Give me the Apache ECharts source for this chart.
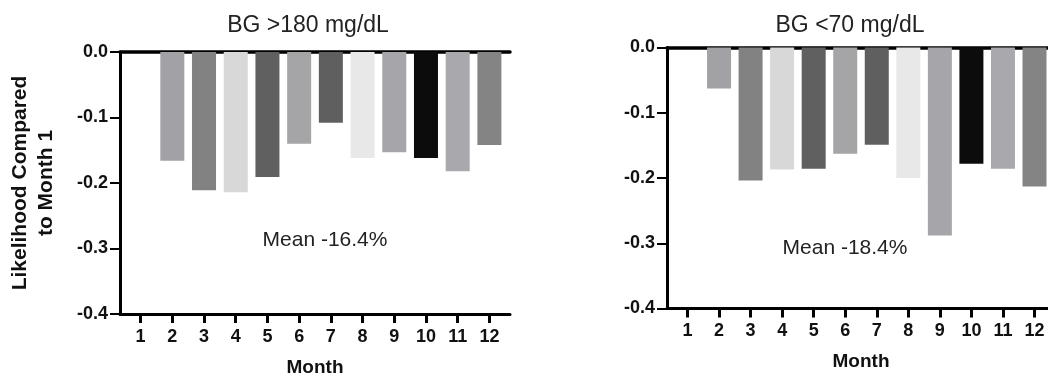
<!DOCTYPE html>
<html>
<head>
<meta charset="utf-8">
<script src="https://cdn.jsdelivr.net/npm/echarts@6/dist/echarts.min.js"></script>
<style>
  html, body { margin: 0; padding: 0; background: #fff; }
  #chart { width: 1048px; height: 378px; }
</style>
</head>
<body>
<div id="chart"></div>
<script>
// 月份与两组数据
var months = [1, 2, 3, 4, 5, 6, 7, 8, 9, 10, 11, 12];
var highValues = [0, -0.166, -0.211, -0.214, -0.191, -0.140, -0.108, -0.162, -0.153, -0.162, -0.182, -0.142];
var lowValues = [0, -0.063, -0.204, -0.187, -0.186, -0.163, -0.149, -0.200, -0.288, -0.178, -0.186, -0.213];
var barColors = ["#ffffff", "#a2a2a6", "#828282", "#d8d8d8", "#606060", "#a5a5a8", "#5f5f5f", "#e8e8e8", "#a6a6aa", "#0c0c0c", "#a9a9ad", "#848484"];
var yTicks = ["0.0", "-0.1", "-0.2", "-0.3", "-0.4"];
var titles = ["BG >180 mg/dL", "BG <70 mg/dL"];
var meanLabels = ["Mean -16.4%", "Mean -18.4%"];

var font = "Liberation Sans, Arial, sans-serif";
var myChart = echarts.init(document.getElementById("chart"));

function barData(values) {
    return months.map(function(m, i) {
        return { value: [m, values[i]], itemStyle: { color: barColors[i] } };
    });
}

function bottomAxis(gridIndex) {
    return {
        type: "value", gridIndex: gridIndex, position: "bottom",
        min: 0.35, max: 12.65,
        name: "Month", nameLocation: "middle", nameGap: 44,
        nameTextStyle: { fontFamily: font, fontSize: 19, fontWeight: "bold", color: "#111" },
        axisLine: { onZero: false, lineStyle: { color: "#000", width: 3 } },
        axisTick: { customValues: months, length: 9, lineStyle: { color: "#000", width: 3 } },
        axisLabel: { customValues: months, fontFamily: font, fontSize: 18, fontWeight: "bold", color: "#111", margin: 14 },
        splitLine: { show: false }
    };
}

function topAxis(gridIndex) {
    return {
        type: "value", gridIndex: gridIndex, position: "top",
        min: 0.35, max: 12.65,
        axisLine: { onZero: false, lineStyle: { color: "#000", width: 3.5 } },
        axisTick: { show: false },
        axisLabel: { show: false },
        splitLine: { show: false }
    };
}

function leftAxis(gridIndex, withName) {
    return {
        type: "value", gridIndex: gridIndex,
        min: -0.4, max: 0, interval: 0.1,
        name: withName ? "Likelihood Compared\nto Month 1" : "",
        nameLocation: "middle", nameRotate: 90, nameGap: 61,
        nameTextStyle: { fontFamily: font, fontSize: 21, fontWeight: "bold", color: "#111", lineHeight: 26 },
        axisLine: { show: true, onZero: false, lineStyle: { color: "#000", width: 3 } },
        axisTick: { show: true, length: 10, lineStyle: { color: "#000", width: 2 } },
        axisLabel: {
            fontFamily: font, fontSize: 18, fontWeight: "bold", color: "#111", margin: 12,
            formatter: function(v) { return yTicks[Math.round(-v * 10)]; }
        },
        splitLine: { show: false }
    };
}

var option = {
    animation: false,
    backgroundColor: "#fff",
    title: [
        { text: titles[0], left: 303, top: 9, textAlign: "center",
          textStyle: { fontFamily: font, fontSize: 23, fontWeight: "normal", color: "#222" } },
        { text: titles[1], left: 845, top: 9, textAlign: "center",
          textStyle: { fontFamily: font, fontSize: 23, fontWeight: "normal", color: "#222" } }
    ],
    grid: [
        { left: 120, top: 52, width: 390, height: 262, outerBoundsMode: "none" },
        { left: 667, top: 47.5, width: 388, height: 261, outerBoundsMode: "none" }
    ],
    xAxis: [bottomAxis(0), topAxis(0), bottomAxis(1), topAxis(1)],
    yAxis: [leftAxis(0, true), leftAxis(1, false)],
    graphic: [
        { type: "text", x: 325, y: 240, style: { text: meanLabels[0], font: "21px " + font, fill: "#222", align: "center", verticalAlign: "middle" } },
        { type: "text", x: 845, y: 248, style: { text: meanLabels[1], font: "21px " + font, fill: "#222", align: "center", verticalAlign: "middle" } }
    ],
    series: [
        { name: titles[0], type: "bar", xAxisIndex: 0, yAxisIndex: 0, barWidth: 24, data: barData(highValues) },
        { name: titles[1], type: "bar", xAxisIndex: 2, yAxisIndex: 1, barWidth: 24, data: barData(lowValues) }
    ]
};

myChart.setOption(option);
</script>
</body>
</html>
